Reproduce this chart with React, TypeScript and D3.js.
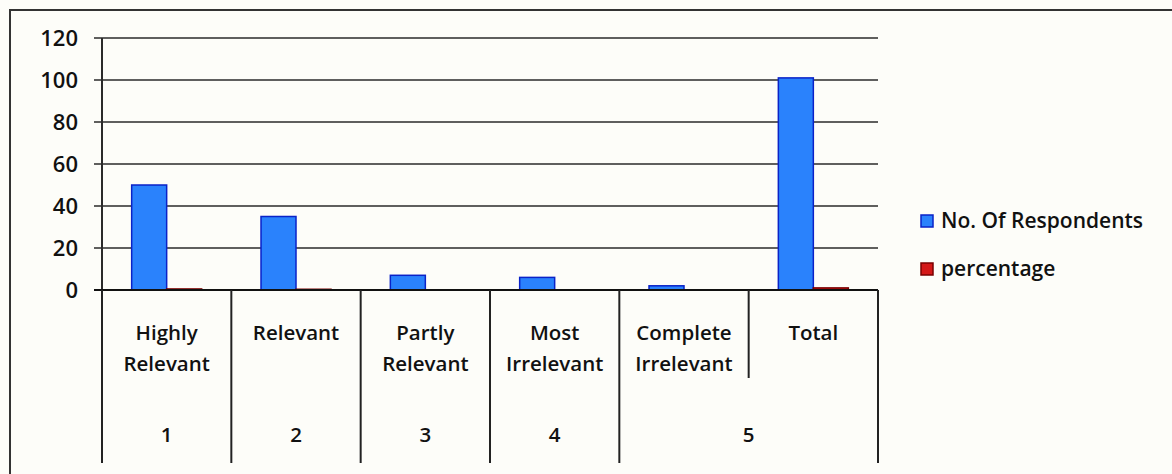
import React from "react";
import * as d3 from "d3";

const categories = ["Highly Relevant", "Relevant", "Partly Relevant", "Most Irrelevant", "Complete Irrelevant", "Total"];
const categoryLines = [["Highly", "Relevant"], ["Relevant"], ["Partly", "Relevant"], ["Most", "Irrelevant"], ["Complete", "Irrelevant"], ["Total"]];
const groupLabels = ["1", "2", "3", "4", "5"];
const groupSpans = [[0, 0], [1, 1], [2, 2], [3, 3], [4, 5]];
const seriesNames = ["No. Of Respondents", "percentage"];
const respondents = [50, 35, 7, 6, 2, 101];
const percentage = [0.5, 0.35, 0.07, 0.06, 0.02, 1];
const yTicks = [0, 20, 40, 60, 80, 100, 120];

const FONT = "'Open Sans', Lato, sans-serif";

export default function App() {
  const W = 1172, H = 474;
  const left = 102, right = 878, top = 38, bottom = 290;
  const x0 = d3.scaleBand<string>().domain(categories).range([left, right]).padding(0);
  const bw = x0.bandwidth();
  const x1 = d3.scaleBand<string>().domain(seriesNames).range([0, bw]).paddingInner(0).paddingOuter(0.848);
  const y = d3.scaleLinear().domain([0, 120]).range([bottom, top]);
  const fills = ["#2a82fc", "#d41818"];
  const strokes = ["#0a22c8", "#7a0000"];
  const values = [respondents, percentage];
  const labelRowEnd = 378;
  const axisEnd = 463;
  const boundaries = d3.range(categories.length + 1);

  return (
    <svg width={W} height={H} style={{ position: "absolute", left: 0, top: 0, background: "#fdfdf9" }} fontFamily={FONT}>
      <rect x={0} y={0} width={W} height={H} fill="#fdfdf9" />
      <rect x={10} y={10} width={W + 20} height={H + 20} fill="none" stroke="#333" strokeWidth={2} />
      {yTicks.map((t) => (
        <g key={t}>
          <line x1={left - 8} x2={right} y1={y(t)} y2={y(t)} stroke="#2a2a2a" strokeWidth={t === 0 ? 2 : 1.5} />
          <text x={78} y={y(t)} dy="0.36em" textAnchor="end" fontSize={22} fontWeight={600} fill="#111">{t}</text>
        </g>
      ))}
      <line x1={left} x2={left} y1={top} y2={bottom} stroke="#2a2a2a" strokeWidth={2} />
      {seriesNames.map((s, si) =>
        categories.map((c, ci) => {
          const v = values[si][ci];
          const bx = (x0(c) as number) + (x1(s) as number);
          const by = y(v);
          const h = Math.max(bottom - by, 0);
          return (
            <rect key={s + c} x={bx} y={by} width={x1.bandwidth()} height={h}
              fill={fills[si]} stroke={strokes[si]} strokeWidth={1.5} />
          );
        })
      )}
      <line x1={left - 8} x2={right} y1={bottom} y2={bottom} stroke="#111" strokeWidth={2} />
      {boundaries.map((i) => {
        const bx = i < categories.length ? (x0(categories[i]) as number) : right;
        const inside = groupSpans.some(([a, b]) => i > a && i <= b);
        return <line key={i} x1={bx} x2={bx} y1={bottom} y2={inside ? labelRowEnd : axisEnd} stroke="#222" strokeWidth={2} />;
      })}
      {categories.map((c, ci) => (
        <text key={c} textAnchor="middle" fontSize={20.5} fontWeight={600} fill="#111">
          {categoryLines[ci].map((ln, li) => (
            <tspan key={li} x={(x0(c) as number) + bw / 2} y={340 + li * 31}>{ln}</tspan>
          ))}
        </text>
      ))}
      {groupLabels.map((g, gi) => {
        const [a, b] = groupSpans[gi];
        const gx = ((x0(categories[a]) as number) + (x0(categories[b]) as number) + bw) / 2;
        return <text key={g} x={gx} y={442} textAnchor="middle" fontSize={20.5} fontWeight={600} fill="#111">{g}</text>;
      })}
      {seriesNames.map((s, si) => (
        <g key={s} transform={`translate(921, ${215 + si * 48})`}>
          <rect x={0} y={0} width={12} height={12} fill={fills[si]} stroke={strokes[si]} strokeWidth={1.5} />
          <text x={20} y={13} fontSize={21} fontWeight={600} fill="#111">{s}</text>
        </g>
      ))}
    </svg>
  );
}
